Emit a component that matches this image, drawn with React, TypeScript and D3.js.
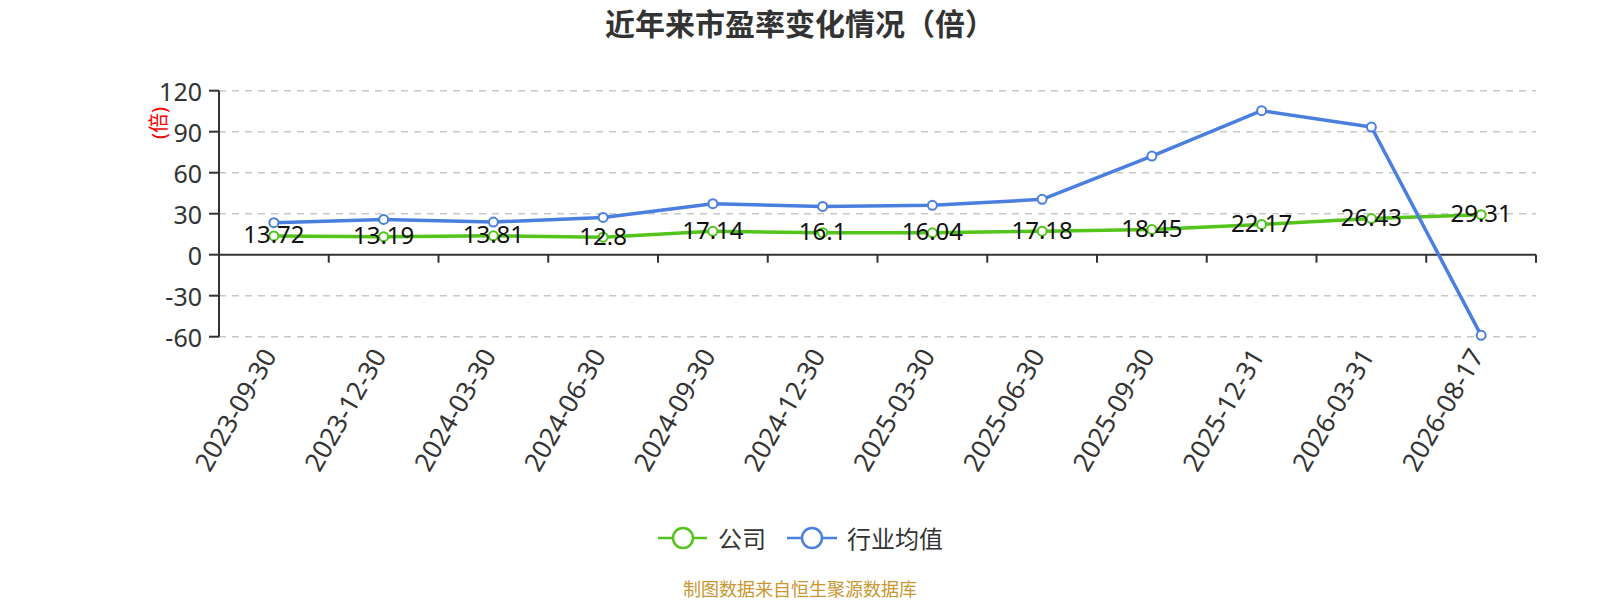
import { scaleBand, scaleLinear, line } from 'd3'

const DATES = [
  '2023-09-30',
  '2023-12-30',
  '2024-03-30',
  '2024-06-30',
  '2024-09-30',
  '2024-12-30',
  '2025-03-30',
  '2025-06-30',
  '2025-09-30',
  '2025-12-31',
  '2026-03-31',
  '2026-08-17',
]

// 公司
const COMPANY = [13.72, 13.19, 13.81, 12.8, 17.14, 16.1, 16.04, 17.18, 18.45, 22.17, 26.43, 29.31]
// 行业均值
const INDUSTRY = [23.4, 25.8, 23.9, 27.3, 37.3, 35.3, 36.1, 40.5, 72.2, 105.4, 93.4, -59.0]

const Y_TICKS = [-60, -30, 0, 30, 60, 90, 120]

const GREEN = '#52c41a'
const BLUE = '#4a7fe0'
const FONT = '"Noto Sans", "Noto Sans CJK SC", sans-serif'

export default function App() {
  const width = 1600
  const height = 600
  const margin = { left: 219, right: 64, top: 90.7, bottom: 263.3 }
  const innerWidth = width - margin.left - margin.right
  const innerHeight = height - margin.top - margin.bottom

  const xScale = scaleBand().domain(DATES).range([0, innerWidth])
  const yScale = scaleLinear().domain([-60, 120]).range([innerHeight, 0])
  const cx = (d: string) => xScale(d)! + xScale.bandwidth() / 2

  const path = line<number>()
    .x((_, i) => cx(DATES[i]))
    .y((v) => yScale(v))

  const y0 = yScale(0)

  return (
    <svg
      width={width}
      height={height}
      style={{ position: 'absolute', left: 0, top: 0, background: '#fff' }}
      fontFamily={FONT}
    >
      {/* Title */}
      <text x={800} y={23} textAnchor='middle' dominantBaseline='central' fontSize={30} fontWeight='bold' fill='#333'>
        近年来市盈率变化情况（倍）
      </text>

      <g transform={`translate(${margin.left}, ${margin.top})`}>
        {/* Grid + y ticks */}
        {Y_TICKS.map((t) => (
          <g key={t} transform={`translate(0, ${yScale(t)})`}>
            {t !== 0 && (
              <line x2={innerWidth} stroke='#c8c8c8' strokeWidth={1.5} strokeDasharray='7 6' />
            )}
            <line x1={-10} x2={0} stroke='#333' strokeWidth={2} />
            <text x={-17} textAnchor='end' dominantBaseline='central' fontSize={25} fill='#333'>
              {t}
            </text>
          </g>
        ))}

        {/* Y axis name */}
        <text
          transform={`translate(${158 - margin.left}, ${123 - margin.top}) rotate(-90)`}
          textAnchor='middle'
          dominantBaseline='central'
          fontSize={20}
          fill='red'
        >
          (倍)
        </text>

        {/* Y axis line */}
        <line y1={0} y2={innerHeight} stroke='#333' strokeWidth={2} />

        {/* X axis line at zero */}
        <line x1={0} x2={innerWidth} y1={y0} y2={y0} stroke='#333' strokeWidth={2} />
        {DATES.map((d) => (
          <line
            key={d}
            x1={xScale(d)! + xScale.bandwidth()}
            x2={xScale(d)! + xScale.bandwidth()}
            y1={y0}
            y2={y0 + 8}
            stroke='#333'
            strokeWidth={2}
          />
        ))}

        {/* X labels */}
        {DATES.map((d) => (
          <text
            key={d}
            transform={`translate(${cx(d) - 5}, ${innerHeight + 14}) rotate(-60)`}
            textAnchor='end'
            dominantBaseline='central'
            fontSize={26}
            fill='#333'
          >
            {d}
          </text>
        ))}

        {/* Lines: 公司 first, 行业均值 drawn over it */}
        <path d={path(COMPANY)!} fill='none' stroke={GREEN} strokeWidth={3.5} strokeLinejoin='round' />
        {COMPANY.map((v, i) => (
          <circle key={i} cx={cx(DATES[i])} cy={yScale(v)} r={4.5} fill='#fff' stroke={GREEN} strokeWidth={2} />
        ))}
        <path d={path(INDUSTRY)!} fill='none' stroke={BLUE} strokeWidth={3.5} strokeLinejoin='round' />
        {INDUSTRY.map((v, i) => (
          <circle key={i} cx={cx(DATES[i])} cy={yScale(v)} r={4.5} fill='#fff' stroke={BLUE} strokeWidth={2} />
        ))}

        {/* Data labels */}
        {COMPANY.map((v, i) => (
          <text
            key={i}
            x={cx(DATES[i])}
            y={yScale(v) - 2}
            textAnchor='middle'
            dominantBaseline='central'
            fontSize={24}
            fill='#111'
          >
            {v}
          </text>
        ))}
      </g>

      {/* Legend */}
      <g transform='translate(658, 538)'>
        <line x1={0} x2={49} stroke={GREEN} strokeWidth={2.5} />
        <circle cx={25} r={10} fill='#fff' stroke={GREEN} strokeWidth={2.5} />
        <text x={60} dominantBaseline='central' fontSize={24} fill='#333'>
          公司
        </text>
      </g>
      <g transform='translate(787, 538)'>
        <line x1={0} x2={50} stroke={BLUE} strokeWidth={2.5} />
        <circle cx={25} r={10} fill='#fff' stroke={BLUE} strokeWidth={2.5} />
        <text x={60} dominantBaseline='central' fontSize={24} fill='#333'>
          行业均值
        </text>
      </g>

      {/* Footer */}
      <text x={800} y={589} textAnchor='middle' dominantBaseline='central' fontSize={18} fill='#c9962f'>
        制图数据来自恒生聚源数据库
      </text>
    </svg>
  )
}
